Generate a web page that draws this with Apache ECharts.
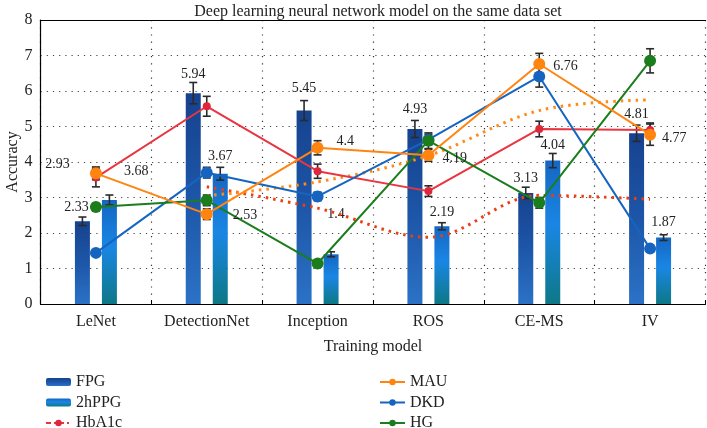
<!DOCTYPE html>
<html>
<head>
<meta charset="utf-8">
<script src="https://cdn.jsdelivr.net/npm/echarts@6/dist/echarts.min.js"></script>
<style>
html,body{margin:0;padding:0;background:#fff;}
#c{width:707px;height:428px;}
</style>
</head>
<body>
<div id="c"></div>
<script>
// ---- data ----
const categories = ['LeNet', 'DetectionNet', 'Inception', 'ROS', 'CE-MS', 'IV'];
const fpg   = [2.33, 5.94, 5.45, 4.93, 3.13, 4.81];
const hppg  = [2.93, 3.67, 1.4, 2.19, 4.04, 1.87];
const hba1c = [3.56, 5.57, 3.74, 3.18, 4.93, 4.90];
const mau   = [3.68, 2.53, 4.4, 4.19, 6.76, 4.77];
const dkd   = [1.44, 3.70, 3.03, 4.63, 6.41, 1.56];
const hg    = [2.73, 2.92, 1.14, 4.60, 2.85, 6.85];
const hba1cTrend = [null, 3.30, 2.70, 1.88, 3.06, 2.95];
const mauTrend   = [null, 3.05, 3.44, 4.18, 5.45, 5.75];
const errFpg   = [0.12, 0.30, 0.28, 0.24, 0.16, 0.23];
const errHppg  = [0.14, 0.18, 0.07, 0.10, 0.20, 0.08];
const errHba1c = [0.26, 0.28, 0.20, 0.15, 0.22, 0.20];
const errMau   = [0.18, 0.15, 0.20, 0.17, 0.30, 0.30];
const errDkd   = [0.08, 0.15, 0.12, 0.15, 0.30, 0.10];
const errHg    = [0.10, 0.15, 0.08, 0.22, 0.15, 0.34];
const yMin = 0, yMax = 8, yStep = 1;

// ---- label placement (style only) ----
const fpgLabelOffset  = [[-6, -5], [0, -9.5], [0, -13], [0, -10.5], [0, -6], [0, -10]];
const hppgLabelOffset = [[-52, -26.5], [0, -8.5], [5, -30.5], [0, -4.5], [0, -6.5], [0, -6.5]];
const mauLabelOffset  = [[14, -2], [12, 1], [5, -6], [0, 3], [0, 2], [-2, 4]];

const FONT = "'Liberation Serif', 'Times New Roman', serif";
const TXT = '#222';

function barData(vals, offs) {
  return vals.map((v, i) => ({ value: v, label: { offset: offs[i] } }));
}
function errData(vals, errs) {
  return vals.map((v, i) => (v == null ? null : [i, v - errs[i], v + errs[i]]));
}
function errSeries(vals, errs, offsetPx, z) {
  return {
    type: 'custom',
    data: errData(vals, errs),
    encode: { x: 0, y: [1, 2] },
    z: z,
    silent: true,
    renderItem: function (params, api) {
      const idx = api.value(0);
      const top = api.coord([idx, api.value(2)]);
      const bot = api.coord([idx, api.value(1)]);
      const cx = top[0] + offsetPx;
      const cap = 4;
      const st = { stroke: '#2a2a2a', lineWidth: 1.6 };
      return {
        type: 'group',
        children: [
          { type: 'line', shape: { x1: cx, y1: top[1], x2: cx, y2: bot[1] }, style: st },
          { type: 'line', shape: { x1: cx - cap, y1: top[1], x2: cx + cap, y2: top[1] }, style: st },
          { type: 'line', shape: { x1: cx - cap, y1: bot[1], x2: cx + cap, y2: bot[1] }, style: st }
        ]
      };
    }
  };
}

const fpgColor = new echarts.graphic.LinearGradient(0, 0, 0, 1, [
  { offset: 0, color: '#16428e' },
  { offset: 0.5, color: '#1d56a8' },
  { offset: 1, color: '#2b72c6' }
]);
const hppgColor = new echarts.graphic.LinearGradient(0, 0, 0, 1, [
  { offset: 0, color: '#1566c2' },
  { offset: 0.45, color: '#1a86e4' },
  { offset: 1, color: '#0e7886' }
]);

const barLabel = {
  show: true, position: 'top', distance: 2,
  fontFamily: FONT, fontSize: 14, color: TXT,
  formatter: p => p.value
};
const legendText = { fontFamily: FONT, fontSize: 16, color: TXT, lineHeight: 20 };

const chart = echarts.init(document.getElementById('c'), null, { renderer: 'canvas' });
chart.setOption({
  animation: false,
  backgroundColor: '#fff',
  title: {
    text: 'Deep learning neural network model on the same data set',
    left: 373, top: -1.5, textAlign: 'center',
    textStyle: { fontFamily: FONT, fontSize: 16, fontWeight: 'normal', color: TXT }
  },
  grid: { left: 40.5, right: 1.5, top: 20, bottom: 124, outerBoundsMode: 'none', containLabel: false },
  legend: [
    {
      left: 40, top: 367, height: 70, orient: 'vertical', itemWidth: 25, itemHeight: 8, itemGap: 0.5,
      textStyle: legendText,
      data: ['FPG', '2hPPG', { name: 'HbA1c', lineStyle: { type: [5, 3, 2, 3] } }]
    },
    {
      left: 374, top: 367, height: 70, orient: 'vertical', itemWidth: 25, itemHeight: 8, itemGap: 0.5,
      textStyle: legendText,
      data: ['MAU', 'DKD', 'HG']
    }
  ],
  xAxis: [
    {
      type: 'category', data: categories, position: 'bottom',
      axisLine: { lineStyle: { color: '#000', width: 1.2 } },
      axisTick: { show: true, inside: true, length: 4, lineStyle: { color: '#000' } },
      axisLabel: { fontFamily: FONT, fontSize: 16, color: TXT, margin: 10, interval: 0, hideOverlap: false },
      splitLine: { show: true, lineStyle: { color: '#333', type: [1.2, 6], width: 1.2 } },
      name: 'Training model', nameLocation: 'middle', nameGap: 35, nameMoveOverlap: false,
      nameTextStyle: { fontFamily: FONT, fontSize: 16, color: TXT }
    },
    {
      type: 'category', data: categories, position: 'top',
      axisLine: { show: true, lineStyle: { color: '#000', width: 1.2 } },
      axisTick: { show: false }, axisLabel: { show: false }, splitLine: { show: false }
    }
  ],
  yAxis: {
    type: 'value', min: yMin, max: yMax, interval: yStep,
    axisLine: { show: true, lineStyle: { color: '#000', width: 1.2 } },
    axisTick: { show: false },
    axisLabel: { fontFamily: FONT, fontSize: 16, color: TXT, margin: 8 },
    splitLine: { show: true, lineStyle: { color: '#444', type: [1.2, 5], width: 1.2 } },
    name: 'Accuracy', nameLocation: 'middle', nameGap: 20, nameMoveOverlap: false,
    nameTextStyle: { fontFamily: FONT, fontSize: 16, color: TXT }
  },
  series: [
    {
      name: 'FPG', type: 'bar', barWidth: 15, barGap: '80%', z: 2,
      itemStyle: { color: fpgColor },
      label: barLabel,
      data: barData(fpg, fpgLabelOffset)
    },
    {
      name: '2hPPG', type: 'bar', barWidth: 15, barGap: '80%', z: 2,
      itemStyle: { color: hppgColor },
      label: barLabel,
      data: barData(hppg, hppgLabelOffset)
    },
    errSeries(fpg, errFpg, -13.5, 3),
    errSeries(hppg, errHppg, 13.5, 3),
    {
      name: 'HbA1c trend', type: 'line', smooth: 0.35, symbol: 'none', z: 4,
      lineStyle: { color: '#ee3e10', width: 3, type: [2.5, 5] },
      data: hba1cTrend
    },
    {
      name: 'MAU trend', type: 'line', smooth: 0.35, symbol: 'none', z: 4,
      lineStyle: { color: '#ff8a14', width: 3, type: [2.5, 5] },
      data: mauTrend
    },
    errSeries(hba1c, errHba1c, 0, 4),
    errSeries(mau, errMau, 0, 4),
    errSeries(dkd, errDkd, 0, 4),
    errSeries(hg, errHg, 0, 4),
    {
      name: 'HbA1c', type: 'line', symbol: 'circle', symbolSize: 8, z: 5,
      lineStyle: { color: '#e83540', width: 2 },
      itemStyle: { color: '#e0263a' },
      data: hba1c
    },
    {
      name: 'DKD', type: 'line', symbol: 'circle', symbolSize: 12, z: 5,
      lineStyle: { color: '#1565c0', width: 2 },
      itemStyle: { color: '#1565c0' },
      data: dkd
    },
    {
      name: 'HG', type: 'line', symbol: 'circle', symbolSize: 12, z: 5,
      lineStyle: { color: '#1b7d1b', width: 2 },
      itemStyle: { color: '#1b7d1b' },
      data: hg
    },
    {
      name: 'MAU', type: 'line', symbol: 'circle', symbolSize: 12, z: 6,
      lineStyle: { color: '#ff8410', width: 2 },
      itemStyle: { color: '#ff8410' },
      label: {
        show: true, position: 'right', distance: 8,
        fontFamily: FONT, fontSize: 14, color: TXT
      },
      data: mau.map((v, i) => ({ value: v, label: { offset: mauLabelOffset[i] } }))
    }
  ]
});
</script>
</body>
</html>
